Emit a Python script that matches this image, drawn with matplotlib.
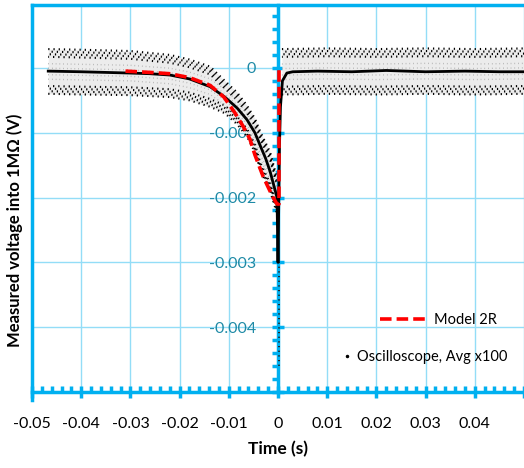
import numpy as np
import matplotlib
matplotlib.use("Agg")
import matplotlib.pyplot as plt
from matplotlib.ticker import MultipleLocator, FixedLocator, FixedFormatter
from matplotlib.lines import Line2D
from matplotlib.patches import Rectangle

plt.rcParams['font.family'] = ['Lato', 'DejaVu Sans']

# averaged scope trace (black line)
t_avg = [-0.0467, -0.040, -0.035, -0.030, -0.026, -0.022, -0.018, -0.0138, -0.0108,
         -0.0083, -0.0063, -0.0047, -0.0035, -0.0025, -0.0016, -0.0002, 0.0,
         0.0003, 0.0005, 0.0009, 0.0018, 0.003, 0.008, 0.015, 0.022, 0.030, 0.038, 0.045, 0.05]
v_avg = [-0.00005, -0.00006, -0.00007, -0.00008, -0.00009, -0.00011, -0.00017, -0.00029, -0.00045,
         -0.00062, -0.0008, -0.0010, -0.00122, -0.0014, -0.0016, -0.0020, -0.0030,
         -0.0012, -0.0006, -0.0002, -0.00008, -0.00006, -0.00005, -0.00006, -0.00004, -0.00006, -0.00005, -0.00006, -0.00006]

# noise envelope of the raw points (left part)
t_band_l = [-0.0467, -0.040, -0.030, -0.022, -0.018, -0.0138, -0.0108, -0.0083, -0.0063, -0.0047, -0.0035, -0.0016, -0.0002]
hi_band_l = [0.00029, 0.00028, 0.00026, 0.00020, 0.00013, 0.00002, -0.00020, -0.00038, -0.00058, -0.00078, -0.00100, -0.00130, -0.00170]
lo_band_l = [-0.00040, -0.00041, -0.00042, -0.00045, -0.00050, -0.00060, -0.00070, -0.00087, -0.00106, -0.00130, -0.00160, -0.00190, -0.00225]
# right part
t_band_r = [0.0008, 0.01, 0.02, 0.03, 0.04, 0.05]
hi_band_r = [0.00029, 0.00030, 0.00029, 0.00030, 0.00029, 0.00030]
lo_band_r = [-0.00041, -0.00040, -0.00041, -0.00040, -0.00041, -0.00040]
# raw points trailing down the step at t=0
t_tail = [0.0003, 0.0003]
v_tail = [-0.0030, -0.0046]

# Model 2R (red dashed)
t_model = [-0.031, -0.026, -0.022, -0.018, -0.0138, -0.011, -0.0087, -0.0071, -0.0057,
           -0.0047, -0.003, -0.001, -0.0002, 0.0002, 0.0002]
v_model = [-0.00005, -0.00007, -0.00009, -0.00015, -0.00027, -0.00045, -0.0007, -0.0009, -0.0011,
           -0.00134, -0.00168, -0.0020, -0.0021, -0.0021, 0.0]

cyan = '#00B0F0'
grid_c = '#93DDF7'
teal = '#1E8AA6'

fig = plt.figure(figsize=(5.24, 4.68), dpi=100)
ax = fig.add_axes([32/524, 1-392/468, 492/524, 387/468])
ax.set_xlim(-0.05, 0.05)
ax.set_ylim(-0.005, 0.00097)

ax.grid(True, which='major', color=grid_c, linewidth=1.0, zorder=0)

# noise cloud
for tb, hb, lb in [(t_band_l, hi_band_l, lo_band_l), (t_band_r, hi_band_r, lo_band_r)]:
    tb = np.array(tb); hb = np.array(hb); lb = np.array(lb)
    ax.fill_between(tb, lb, hb, color='#ececec', linewidth=0, zorder=2)
    for k, off in enumerate([0.0, 0.00004, 0.00008, 0.00012]):
        ax.plot(tb, hb - off, color='black', lw=1.5, ls=(k * 0.9, (0.6, 1.9)), zorder=3)
        ax.plot(tb, lb + off, color='black', lw=1.5, ls=(k * 0.9, (0.6, 1.9)), zorder=3)
    for off in [-0.00012, -0.00005, 0.00005, 0.00012]:
        ax.plot(tb, (hb + lb) / 2 + off, color='#a8a8a8', lw=1.0, ls=(0, (0.5, 2.2)), zorder=3)
ax.plot(t_tail, v_tail, color='#222222', lw=1.4, ls=(0, (0.6, 1.8)), zorder=4)

ax.plot(t_avg, v_avg, color='black', lw=2.0, zorder=4)
ax.plot(t_model, v_model, color='#FF0000', lw=2.6, ls=(0, (3.2, 1.4)), zorder=5)

# spines
ax.spines['right'].set_visible(False)
for s in ['top', 'bottom']:
    ax.spines[s].set_color(cyan)
    ax.spines[s].set_linewidth(2.5)
ax.spines['left'].set_position(('data', 0))
ax.spines['left'].set_color(cyan)
ax.spines['left'].set_linewidth(2.5)
ax.spines['left'].set_zorder(3.5)
ax.plot([-0.05, -0.05], [-0.00512, 0.00097], color=cyan, lw=2.5, clip_on=False, zorder=6)

# x axis ticks
xt = [-0.05, -0.04, -0.03, -0.02, -0.01, 0.0, 0.01, 0.02, 0.03, 0.04]
xl = ['-0.05', '-0.04', '-0.03', '-0.02', '-0.01', '0', '0.01', '0.02', '0.03', '0.04']
ax.xaxis.set_major_locator(FixedLocator(xt + [0.05]))
ax.xaxis.set_major_formatter(FixedFormatter(xl + ['']))
ax.xaxis.set_minor_locator(MultipleLocator(0.002))
ax.tick_params(axis='x', which='major', direction='inout', length=8, width=2.5, color=cyan,
               labelsize=11.5, pad=14, labelcolor='black')
ax.tick_params(axis='x', which='minor', direction='in', length=4, width=2.5, color=cyan)

# y axis ticks
yt = [-0.005, -0.004, -0.003, -0.002, -0.001, 0.0, 0.001]
yl = ['', '-0.004', '-0.003', '-0.002', '-0.001', '0', '']
ax.yaxis.set_major_locator(FixedLocator(yt))
ax.yaxis.set_major_formatter(FixedFormatter(yl))
ax.yaxis.set_minor_locator(MultipleLocator(0.0002))
ax.tick_params(axis='y', which='major', direction='inout', length=8, width=2.5, color=cyan,
               labelsize=11.5, pad=12, labelcolor=teal)
ax.tick_params(axis='y', which='minor', direction='out', length=4, width=2.5, color=cyan)

ax.set_xlabel('Time (s)', fontsize=12.5, fontweight='bold', labelpad=7)
fig.text(15/524, 1-230/468, 'Measured voltage into 1M\u03a9 (V)', rotation=90, fontsize=12,
         fontweight='bold', ha='center', va='center')

# legend area
ax.add_patch(Rectangle((0.636, 0.039), 0.34, 0.204, transform=ax.transAxes,
                       facecolor='white', edgecolor='none', zorder=1))
h1 = Line2D([], [], color='#FF0000', lw=2.6, ls=(0, (3.2, 1.4)))
h2 = Line2D([], [], color='black', marker='.', markersize=3, ls='none')
leg1 = ax.legend([h1], ['Model 2R'], loc='center left', bbox_to_anchor=((380-32)/492, (392-320)/387),
                 frameon=False, borderpad=0, borderaxespad=0, handlelength=3.3, handletextpad=0.4,
                 fontsize=10.5)
ax.add_artist(leg1)
ax.legend([h2], ['Oscilloscope, Avg x100'], loc='center left', bbox_to_anchor=((343-32)/492, (392-357)/387),
          frameon=False, borderpad=0, borderaxespad=0, handlelength=0.5, handletextpad=0.45,
          fontsize=10.5)

fig.savefig('out.png', dpi=100)
